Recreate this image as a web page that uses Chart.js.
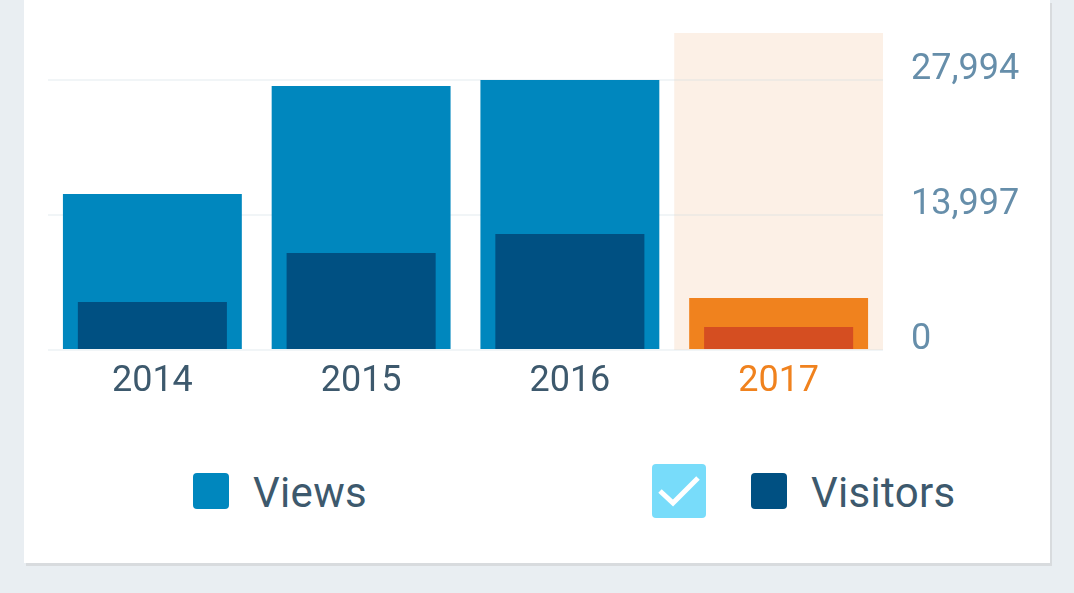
<!DOCTYPE html>
<html>
<head>
<meta charset="utf-8">
<script src="https://cdn.jsdelivr.net/npm/chart.js@4.4.1/dist/chart.umd.min.js"></script>
<style>
  html, body { margin: 0; padding: 0; background: #e9eef2; width: 1074px; height: 593px; overflow: hidden; font-family: Roboto, sans-serif; }
  #card { position: absolute; left: 24px; top: 0; width: 1026px; height: 563px; background: #fff; box-shadow: 2px 3px 0 #d8dbde; }
  #chart { position: absolute; left: 0; top: 0; }
  .box { position: absolute; width: 36px; height: 36px; border-radius: 4px; }
  .lbl { position: absolute; font-size: 42px; line-height: 42px; color: #3d596d; white-space: nowrap; }
  #check { position: absolute; left: 628px; top: 464px; width: 54px; height: 54px; border-radius: 4px; background: #78dcfa; }
</style>
</head>
<body>
<div id="card">
  <canvas id="chart" width="1026" height="430"></canvas>
  <div class="box" style="left:169px; top:473px; background:#0087be;"></div>
  <div class="lbl" style="left:229px; top:472px; letter-spacing:0.3px;">Views</div>
  <div id="check"><svg width="54" height="54" viewBox="0 0 54 54"><polyline points="8,27 21,39 46,14" fill="none" stroke="#fff" stroke-width="5"/></svg></div>
  <div class="box" style="left:727px; top:473px; background:#005082;"></div>
  <div class="lbl" style="left:787px; top:472px; letter-spacing:0.3px;">Visitors</div>
</div>
<script>
const categories = ['2014', '2015', '2016', '2017'];
const viewsValues = [16174, 27372, 27994, 5391];
const visitorsValues = [4977, 10057, 12027, 2385];
const yTickValues = [0, 13997, 27994];
const yMax = 32867;
const highlightIndex = 3;

const viewsColor = '#0087be', visitorsColor = '#005082';
const viewsHi = '#f0821e', visitorsHi = '#d54e21';

const highlightPlugin = {
  id: 'highlight',
  beforeDraw(chart) {
    const x = chart.scales.x, a = chart.chartArea, c = chart.ctx;
    const w = (a.right - a.left) / categories.length;
    const cx = x.getPixelForValue(highlightIndex);
    c.save();
    c.fillStyle = '#fcf0e6';
    c.fillRect(cx - w / 2, a.top, w, a.bottom - a.top);
    c.restore();
  }
};

new Chart(document.getElementById('chart'), {
  type: 'bar',
  data: {
    labels: categories,
    datasets: [
      {
        label: 'Views',
        data: viewsValues,
        backgroundColor: categories.map((_, i) => i === highlightIndex ? viewsHi : viewsColor),
        barPercentage: 0.857,
        categoryPercentage: 1,
        grouped: false,
        order: 2,
        borderWidth: 0
      },
      {
        label: 'Visitors',
        data: visitorsValues,
        backgroundColor: categories.map((_, i) => i === highlightIndex ? visitorsHi : visitorsColor),
        barPercentage: 0.714,
        categoryPercentage: 1,
        grouped: false,
        order: 1,
        borderWidth: 0
      }
    ]
  },
  options: {
    responsive: false,
    animation: false,
    devicePixelRatio: 1,
    layout: { padding: { left: 24, top: 33, right: 0, bottom: 0 } },
    plugins: { legend: { display: false }, tooltip: { enabled: false } },
    scales: {
      x: {
        grid: { display: false, drawTicks: false },
        border: { display: false },
        ticks: {
          font: { family: 'Roboto', size: 36 },
          color: ctx => ctx.index === highlightIndex ? '#f0821e' : '#3d596d',
          padding: 10,
          maxRotation: 0
        },
        afterFit(s) { s.height = 80; s.paddingLeft = 0; s.paddingRight = 0; }
      },
      y: {
        position: 'right',
        min: 0,
        max: yMax,
        grid: { color: 'rgba(200,215,225,0.25)', lineWidth: 2, drawTicks: false },
        border: { display: false },
        ticks: {
          font: { family: 'Roboto', size: 36 },
          color: '#668eaa',
          padding: 28,
          labelOffset: -10,
          callback: v => v.toLocaleString('en-US')
        },
        afterBuildTicks(s) { s.ticks = yTickValues.map(v => ({ value: v })); },
        afterFit(s) { s.width = 167; s.paddingTop = 0; s.paddingBottom = 0; }
      }
    }
  },
  plugins: [highlightPlugin]
});
</script>
</body>
</html>
